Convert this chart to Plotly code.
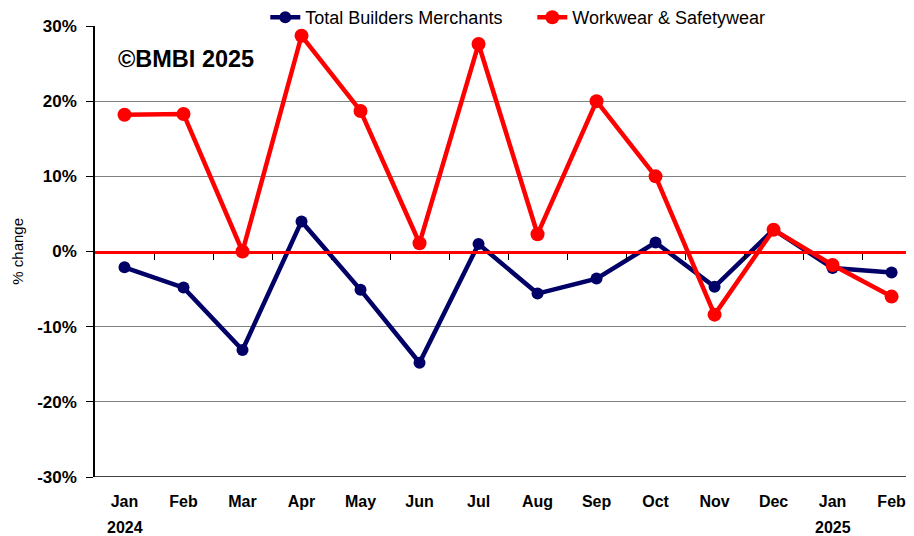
import plotly.graph_objects as go

# Datos (variación % interanual)
MESES = ["Jan", "Feb", "Mar", "Apr", "May", "Jun", "Jul", "Aug",
         "Sep", "Oct", "Nov", "Dec", "Jan", "Feb"]
ANIOS = {0: "2024", 12: "2025"}
TOTAL_BM = [-2.1, -4.8, -13.1, 4.0, -5.1, -14.8, 1.0, -5.6, -3.6, 1.2, -4.7, 2.9, -2.2, -2.8]
WORKWEAR = [18.2, 18.3, 0.0, 28.7, 18.7, 1.1, 27.6, 2.3, 20.0, 10.0, -8.4, 2.9, -1.8, -6.0]
Y_TICKS = [-30, -20, -10, 0, 10, 20, 30]

NAVY = "#000066"
ROJO = "#FF0000"
FUENTE = "Arial, Liberation Sans, sans-serif"

idx = list(range(len(MESES)))

fig = go.Figure()
fig.add_trace(go.Scatter(
    x=idx, y=TOTAL_BM, name="Total Builders Merchants", mode="lines+markers",
    line=dict(color=NAVY, width=4.5), marker=dict(color=NAVY, size=12)
))
fig.add_trace(go.Scatter(
    x=idx, y=WORKWEAR, name="Workwear & Safetywear", mode="lines+markers",
    line=dict(color=ROJO, width=4.5), marker=dict(color=ROJO, size=14)
))

# línea del eje en 0 con marcas entre categorías
fig.add_trace(go.Scatter(x=[None], y=[None], xaxis="x2", showlegend=False, hoverinfo="skip"))

fig.update_layout(
    width=906, height=528,
    margin=dict(l=87, r=0, t=18, b=59, autoexpand=False),
    paper_bgcolor="white", plot_bgcolor="white",
    font=dict(family=FUENTE, color="black", size=14),
    showlegend=True,
    legend=dict(orientation="h", xref="container", yref="container",
                x=0.284, xanchor="left", y=0.982, yanchor="middle",
                entrywidth=222, font=dict(size=18), tracegroupgap=0,
                bgcolor="rgba(0,0,0,0)"),
    xaxis=dict(
        range=[-0.5, 13.38], tickvals=idx, ticktext=["<b>%s</b>" % m for m in MESES],
        showgrid=False, zeroline=False, showline=False, ticks="",
        tickfont=dict(size=16), ticklabelstandoff=13, automargin=False
    ),
    xaxis2=dict(
        overlaying="x", anchor="free", position=0.5, side="bottom",
        range=[-0.5, 13.38], tickvals=[i + 0.5 for i in idx[:-1]],
        showticklabels=False, ticks="outside", ticklen=6, tickcolor="black",
        showline=True, linecolor=ROJO, linewidth=3, showgrid=False, zeroline=False
    ),
    yaxis=dict(
        range=[-30, 30], tickvals=Y_TICKS, ticktext=["<b>%d%%</b>" % v for v in Y_TICKS],
        showgrid=True, gridcolor="#808080", gridwidth=1, zeroline=False,
        showline=True, linecolor="black", linewidth=1.5,
        ticks="outside", ticklen=7, tickcolor="black", tickfont=dict(size=17),
        ticklabelstandoff=6, automargin=False
    ),
)

# eje inferior negro en -30%
fig.add_shape(type="line", xref="paper", yref="y", x0=0, x1=1, y0=-30, y1=-30,
              line=dict(color="black", width=1.5))

# años bajo Jan
for i, anio in ANIOS.items():
    fig.add_annotation(text="<b>%s</b>" % anio, xref="x", yref="paper", x=i, y=-0.111,
                       xanchor="center", yanchor="middle", showarrow=False,
                       font=dict(size=16))

fig.add_annotation(text="% change", xref="paper", yref="paper", x=-0.095, y=0.5,
                   xanchor="center", yanchor="middle",
                   textangle=-90, showarrow=False, font=dict(size=15, color="black"))

fig.add_annotation(text="<b>©BMBI 2025</b>", xref="paper", yref="paper",
                   x=0.026, y=0.927, xanchor="left", yanchor="middle", showarrow=False,
                   font=dict(size=23.5))

fig.write_html("out.html")
